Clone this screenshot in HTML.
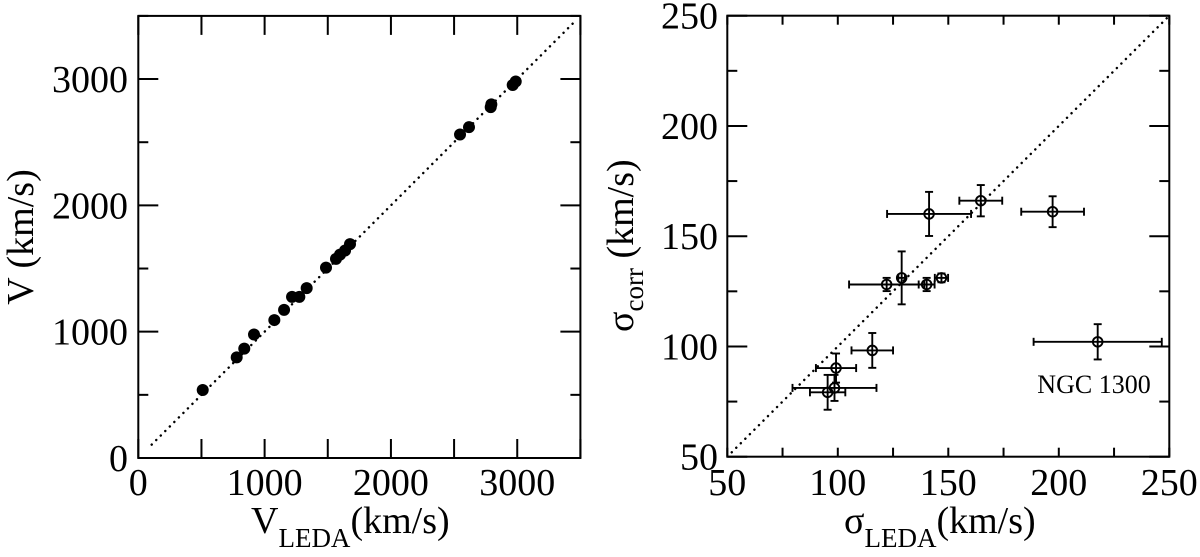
<!DOCTYPE html>
<html><head><meta charset="utf-8"><style>
html,body{margin:0;padding:0;background:#fff;}
svg, svg text, svg tspan{font-family:"Liberation Serif","DejaVu Serif",serif !important;}
</style></head><body>
<svg id="chart" width="1200" height="552" viewBox="0 0 1200 552" xmlns="http://www.w3.org/2000/svg" font-family="Liberation Serif, serif">
<g id="left"></g>
<g id="right"></g>
</svg>
<script>
// Left panel data
const vLeda = [510,779,839,916,1077,1154,1217,1275,1333,1486,1565,1597,1637,1676,2547,2618,2790,2795,2964,2988];
const vMeas = [538,797,866,978,1092,1173,1276,1276,1345,1507,1576,1610,1643,1693,2561,2619,2778,2800,2953,2981];
const leftXTicks = [0,1000,2000,3000];
const leftYTicks = [0,1000,2000,3000];
// Right panel data
const sLeda = [141.3,164.7,197.2,217.6,128.9,122.1,140.2,146.9,115.6,99.2,98.5,95.4];
const sCorr = [160.1,166.1,161.1,102.1,131.1,128.1,128.1,131.1,98.2,90.2,81.2,79.2];
const sLedaErr = [19,9.7,14.2,29,1.5,17,3.6,3,9.4,9.1,19,8];
const sCorrErr = [10,7.1,7,8,12,3,3,2,7.9,6.6,5.9,7.9];
const rightXTicks = [50,100,150,200,250];
const rightYTicks = [50,100,150,200,250];

const NS = "http://www.w3.org/2000/svg";
function mk(parent, tag, attrs){ const e=document.createElementNS(NS,tag); for(const k in attrs) e.setAttribute(k,attrs[k]); parent.appendChild(e); return e; }

function axes(g, L, R, T, B, xmin, xmax, ymin, ymax, xMajor, xMinorStep, yMinorStep, xTickLen){
  const sx = v => L + (v - xmin) / (xmax - xmin) * (R - L);
  const sy = v => B - (v - ymin) / (ymax - ymin) * (B - T);
  for (let v = xmin; v <= xmax + 1e-9; v += xMinorStep) {
    const x = sx(v);
    const t1 = mk(g,'line',{x1:x,y1:B,x2:x,y2:B-xTickLen,stroke:'#000','stroke-width':2});
    
    
    const t2 = mk(g,'line',{x1:x,y1:T,x2:x,y2:T+xTickLen,stroke:'#000','stroke-width':2});
    
    
  }
  for (let v = ymin; v <= ymax + 1e-9; v += yMinorStep) {
    const y = sy(v);
    const major = Math.round((v - ymin) / yMinorStep) % 2 === 0;
    const len = major ? 20 : 10;
    const t1 = mk(g,'line',{x1:L,y1:y,x2:L+len,y2:y,stroke:'#000','stroke-width':2});
    
    
    const t2 = mk(g,'line',{x1:R,y1:y,x2:R-len,y2:y,stroke:'#000','stroke-width':2});
    
    
  }
  const fr = mk(g,'rect',{x:L,y:T,width:R-L,height:B-T,fill:'none',stroke:'#000','stroke-width':2});
  
  
  return {sx, sy};
}

function diag(g, sx, sy, a, b){
  const ln = mk(g,'line',{x1:sx(a),y1:sy(a),x2:sx(b),y2:sy(b),stroke:'#000','stroke-width':2.4,'stroke-dasharray':'0.1 6.3','stroke-linecap':'round'});
  
  
}

function label(g, x, y, txt, anchor, size, name){
  const t = mk(g,'text',{x:x,y:y,'text-anchor':anchor,'font-size':size,fill:'#000','font-family':'Liberation Serif, serif'});
  t.textContent = txt;
  
  
  return t;
}

// LEFT
(function(){
  const g = document.getElementById('left');
  const a = axes(g, 138.3, 580.4, 15.9, 458, 0, 3500, 0, 3500, 1000, 500, 500, 19);
  diag(g, a.sx, a.sy, 106, 3467);
  vLeda.forEach((v,i)=>{
    const c = mk(g,'circle',{cx:a.sx(v),cy:a.sy(vMeas[i]),r:6,fill:'#000'});
    
    
  });
  leftXTicks.forEach(v=>label(g, a.sx(v), 495, String(v), 'middle', 38, 'x-tick-label'));
  leftYTicks.forEach(v=>label(g, 128, a.sy(v)+13, String(v), 'end', 38, 'y-tick-label'));
  const xt = label(g, 251, 533, 'V', 'start', 38, 'x-axis-title');
  const s1 = mk(xt,'tspan',{dy:14,'font-size':27}); s1.textContent='LEDA';
  const s2 = mk(xt,'tspan',{dy:-14,'font-size':38}); s2.textContent='(km/s)';
  const yt = label(g, 0, 0, 'V (km/s)', 'middle', 38, 'y-axis-title');
  yt.setAttribute('transform','translate(33,237) rotate(-90)');
})();

// RIGHT
(function(){
  const g = document.getElementById('right');
  const a = axes(g, 727.3, 1169.3, 15.7, 456.7, 50, 250, 50, 250, 50, 25, 25, 9);
  diag(g, a.sx, a.sy, 52, 250);
  sLeda.forEach((v,i)=>{
    const x = a.sx(v), y = a.sy(sCorr[i]);
    const x1 = a.sx(v - sLedaErr[i]), x2 = a.sx(v + sLedaErr[i]);
    const y1 = a.sy(sCorr[i] - sCorrErr[i]), y2 = a.sy(sCorr[i] + sCorrErr[i]);
    const eg = mk(g,'g',{stroke:'#000','stroke-width':1.9,fill:'none'});
    
    
    mk(eg,'line',{x1:x1,y1:y,x2:x2,y2:y});
    mk(eg,'line',{x1:x1,y1:y-4,x2:x1,y2:y+4});
    mk(eg,'line',{x1:x2,y1:y-4,x2:x2,y2:y+4});
    mk(eg,'line',{x1:x,y1:y1,x2:x,y2:y2});
    mk(eg,'line',{x1:x-4,y1:y1,x2:x+4,y2:y1});
    mk(eg,'line',{x1:x-4,y1:y2,x2:x+4,y2:y2});
    mk(eg,'circle',{cx:x,cy:y,r:4.8});
  });
  rightXTicks.forEach(v=>label(g, a.sx(v), 495, String(v), 'middle', 38, 'x-tick-label'));
  rightYTicks.forEach(v=>label(g, 718, a.sy(v)+13, String(v), 'end', 38, 'y-tick-label'));
  label(g, 1094, 393, 'NGC 1300', 'middle', 26, 'ngc1300-annotation');
  const xt = label(g, 844, 533, 'σ', 'start', 38, 'x-axis-title');
  const s1 = mk(xt,'tspan',{dy:14,'font-size':27}); s1.textContent='LEDA';
  const s2 = mk(xt,'tspan',{dy:-14,'font-size':38}); s2.textContent='(km/s)';
  const yt = label(g, 0, 0, 'σ', 'start', 38, 'y-axis-title');
  const t1 = mk(yt,'tspan',{dy:10,'font-size':27}); t1.textContent='corr';
  const t2 = mk(yt,'tspan',{dy:-10,'font-size':38}); t2.textContent=' (km/s)';
  yt.setAttribute('transform','translate(633,332) rotate(-90)');
})();
</script>
</body></html>
